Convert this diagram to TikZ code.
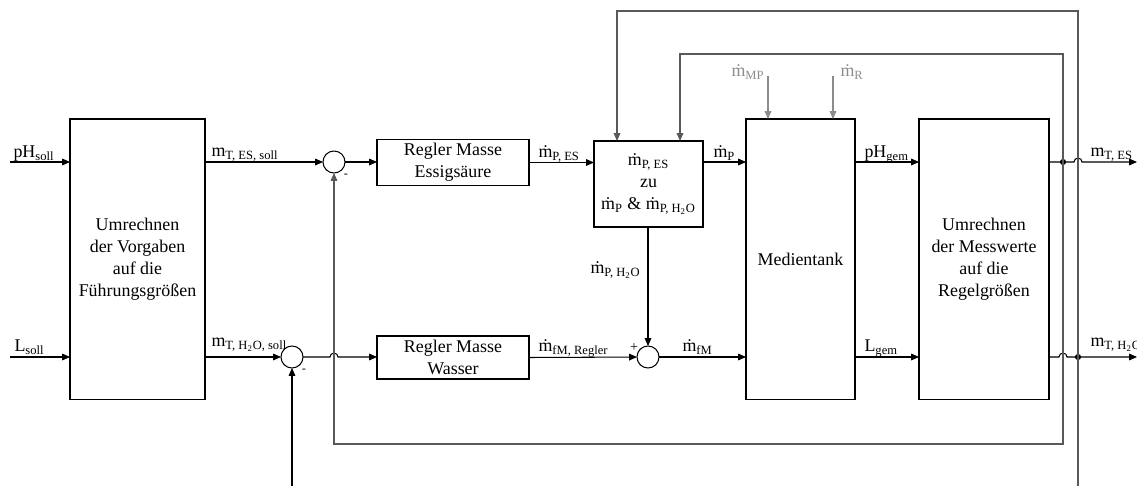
\documentclass[tikz,border=0pt]{standalone}
\usepackage{fontspec}
\setmainfont{Liberation Serif}
\usetikzlibrary{arrows.meta,positioning}

% m con punto
\newcommand{\md}{ṁ}

\begin{document}
\begin{tikzpicture}[x=0.02cm, y=-0.02cm, line width=0.6pt,
    font=\fontsize{10.2}{12.5}\selectfont,
    blocco/.style={draw, align=center, inner sep=2pt, outer sep=0pt},
    somma/.style={draw, circle, minimum size=0.44cm, inner sep=0pt, outer sep=0pt},
    etichetta/.style={inner sep=0pt, anchor=base west},
    freccia/.style={-{Triangle[length=4.5pt,width=3.8pt]}},
    ritorno/.style={draw=black!65},
    disturbo/.style={draw=black!45, -{Triangle[length=4.5pt,width=3.8pt]}},
    punto/.style={circle, fill, inner sep=0pt, minimum size=3.5pt}]
    % parametri
    \def\yA{162}
    \def\yB{357}
    \def\r{4}

    \useasboundingbox (0,0) rectangle (1137,486);

    % blocchi
    \node[blocco, minimum width=2.7cm, minimum height=5.62cm] (vorg) at (137.5,259.5)
        {Umrechnen\\der Vorgaben\\auf die\\Führungsgrößen};
    \node[blocco, minimum width=3.04cm, minimum height=0.86cm] (ress) at (453,162.5)
        {Regler Masse\\Essigsäure};
    \node[blocco, minimum width=3.04cm, minimum height=0.86cm] (rwas) at (453,357.5)
        {Regler Masse\\Wasser};
    \node[blocco, minimum width=2.18cm, minimum height=1.72cm] (umr) at (648.5,184)
        {\md\textsubscript{P, ES}\\zu\\\md\textsubscript{P} \& \md\textsubscript{P, H\textsubscript{2}O}};
    \node[blocco, minimum width=2.18cm, minimum height=5.62cm] (tank) at (800.5,259.5)
        {Medientank};
    \node[blocco, minimum width=2.6cm, minimum height=5.62cm] (mess) at (984,259.5)
        {Umrechnen\\der Messwerte\\auf die\\Regelgrößen};

    % sommatori
    \node[somma] (s1) at (334,\yA) {};
    \node[somma] (s2) at (292,\yB) {};
    \node[somma] (s3) at (648,\yB) {};

    % punti di diramazione
    \node[punto] (j1) at (1063,\yA) {};
    \node[punto] (j2) at (1078,\yB) {};

    % ingressi e uscite
    \coordinate (inph) at (10,\yA);
    \coordinate (inl) at (10,\yB);
    \coordinate (outes) at (1137,\yA);
    \coordinate (outw) at (1137,\yB);
    \coordinate (ins2) at (292,486);
    \coordinate (bassoB) at (1078,486);
    \coordinate (kA) at (680,54);
    \coordinate (kB) at (617,11);
    \coordinate (kC) at (334,444);
    \coordinate (dmp) at (768,76);
    \coordinate (dr) at (833,76);

    % frecce orizzontali
    \draw[freccia] (inph) -- (inph -| vorg.west);
    \draw[freccia] (inl) -- (inl -| vorg.west);
    \draw[freccia] (vorg.east |- s1) -- (s1);
    \draw[freccia] (vorg.east |- s2) -- (s2);
    \draw[freccia] (s1.east) -- (s1.east -| ress.west);
    \draw[freccia] (s2.east) -- (330,\yB) arc[start angle=180, end angle=360, radius=\r] -- (s2.east -| rwas.west);
    \draw[freccia] (ress.east) -- (ress.east -| umr.west);
    \draw[freccia] (umr.east |- s1) -- (s1 -| tank.west);
    \draw[freccia] (rwas.east) -- (s3);
    \draw[freccia] (s3) -- (s3 -| tank.west);
    \draw[freccia] (tank.east |- s1) -- (s1 -| mess.west);
    \draw[freccia] (tank.east |- s2) -- (s2 -| mess.west);
    \draw[freccia] (mess.east |- s1) -- (j1.center) -- (1074,\yA) arc[start angle=180, end angle=360, radius=\r] -- (outes);
    \draw[freccia] (mess.east |- s2) -- (1059,\yB) arc[start angle=180, end angle=360, radius=\r] -- (j2.center) -- (outw);

    % frecce verticali
    \draw[freccia] (umr.south -| s3) -- (s3);
    \draw[freccia] (ins2) -- (s2.south);
    \draw[disturbo] (dmp) -- (dmp |- tank.north);
    \draw[disturbo] (dr) -- (dr |- tank.north);

    % anelli di ritorno
    \draw[freccia, ritorno] (j1.center) |- (kA) -- (kA |- umr.north);
    \draw[freccia, ritorno] (j1.center) |- (kC) -- (s1.south);
    \draw[freccia, ritorno] (j2.center) |- (kB) -- (kB |- umr.north);
    \draw[ritorno] (j2.center) -- (bassoB);

    % etichette
    \node[etichetta] (lph) at (13,158) {pH\textsubscript{soll}};
    \node[etichetta] (ll) at (14,352) {L\textsubscript{soll}};
    \node[etichetta] (lmes) at (211,157) {m\textsubscript{T, ES, soll}};
    \node[etichetta] (lmws) at (211,347) {m\textsubscript{T, H\textsubscript{2}O, soll}};
    \node[etichetta] (lmpes) at (538,158) {\md\textsubscript{P, ES}};
    \node[etichetta] (lmp) at (713,158) {\md\textsubscript{P}};
    \node[etichetta] (lmph) at (590,274) {\md\textsubscript{P, H\textsubscript{2}O}};
    \node[etichetta] (lmfr) at (538,352) {\md\textsubscript{fM, Regler}};
    \node[etichetta] (lmf) at (682,352) {\md\textsubscript{fM}};
    \node[etichetta, text=black!45] (lmmp) at (731,77) {\md\textsubscript{MP}};
    \node[etichetta, text=black!45] (lmr) at (840,77) {\md\textsubscript{R}};
    \node[etichetta] (lphg) at (864,158) {pH\textsubscript{gem}};
    \node[etichetta] (llg) at (864,352) {L\textsubscript{gem}};
    \node[etichetta] (lmtes) at (1090,157) {m\textsubscript{T, ES}};
    \node[etichetta] (lmtw) at (1090,347) {m\textsubscript{T, H\textsubscript{2}O}};

    % segni
    \node[font=\scriptsize] (m1) at (346,176) {-};
    \node[font=\scriptsize] (m2) at (304,371) {-};
    \node[font=\footnotesize] (p3) at (634,348) {+};
\end{tikzpicture}
\end{document}
